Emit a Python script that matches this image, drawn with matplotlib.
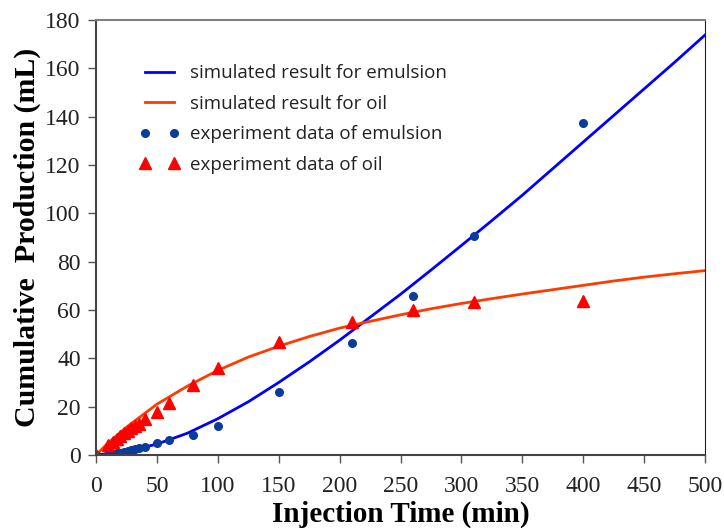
import matplotlib.pyplot as plt

# simulated curves
sim_t = [0, 10, 25, 50, 75, 100, 125, 150, 175, 200, 225, 250, 275, 300,
         325, 350, 375, 400, 425, 450, 475, 500]
sim_emulsion = [0, 0.5, 1.5, 4.5, 9, 15, 22, 30, 38.5, 47.5, 57, 66.5, 76.5,
                86.7, 97, 107.5, 118.5, 129.5, 140.5, 151.5, 162.5, 173.8]
sim_oil = [0, 5, 11.5, 21, 28.5, 35, 40.5, 45, 49, 52.5, 55.3, 58, 60.5,
           62.7, 64.7, 66.6, 68.4, 70.2, 72, 73.6, 75, 76.3]

# experiment data
exp_t = [0, 10, 14, 17, 20, 23, 26, 29, 32, 35, 40, 50, 60, 80, 100, 150,
         210, 260, 310, 400]
exp_emulsion = [0, 0.3, 0.5, 0.7, 0.9, 1.2, 1.5, 1.9, 2.3, 2.7, 3.2, 5, 6.1,
                8.4, 12.1, 26, 46.5, 65.8, 90.7, 137.3]
exp_oil = [0, 4, 5.5, 6.7, 8, 9, 10, 11, 12, 13, 14.9, 17.9, 21.4, 29, 35.9,
           46.9, 55.2, 60, 63.4, 63.8]

fig = plt.figure(figsize=(7.24, 5.28), dpi=100)
ax = fig.add_axes([0.1326, 0.1383, 0.8412, 0.8238])

ax.plot(sim_t, sim_emulsion, color='#0000FF', lw=2, label='simulated result for emulsion')
ax.plot(sim_t, sim_oil, color='#FF3B00', lw=2, label='simulated result for oil')
ax.plot(exp_t, exp_emulsion, 'o', color='#0B3C9C', ms=5.5, ls='none',
        label='experiment data of emulsion')
ax.plot(exp_t, exp_oil, '^', color='#FF0000', ms=9, ls='none',
        label='experiment data of oil')

ax.set_xlim(0, 500)
ax.set_ylim(0, 180)
ax.set_xticks(range(0, 501, 50))
ax.set_yticks(range(0, 181, 20))

ax.spines['top'].set_color('#808080')
ax.spines['top'].set_linewidth(1.5)
ax.spines['right'].set_color('#222222')
ax.spines['left'].set_color('#444444')
ax.spines['left'].set_linewidth(1.5)
ax.spines['bottom'].set_color('#444444')
ax.spines['bottom'].set_linewidth(1.5)
ax.tick_params(direction='out', length=6, color='#555555', width=1,
               labelsize=17, pad=5)
ax.tick_params(axis='x', pad=9)
for lab in ax.get_xticklabels() + ax.get_yticklabels():
    lab.set_family('Liberation Serif')
    lab.set_color('#222222')

ax.set_xlabel('Injection Time (min)', family='Liberation Serif',
              fontweight='bold', fontsize=21, labelpad=3)
ax.set_ylabel('Cumulative  Production (mL)', family='Liberation Serif',
              fontweight='bold', fontsize=21.5, labelpad=3)

leg = ax.legend(loc='upper left', bbox_to_anchor=(0.072, 0.898), frameon=False,
                numpoints=2, prop={'family': 'Open Sans', 'size': 13.5},
                handlelength=2.1, labelspacing=0.66, handletextpad=0.55,
                borderpad=0, borderaxespad=0)
for t in leg.get_texts():
    t.set_color('#222222')

plt.savefig('out.png', dpi=100)
